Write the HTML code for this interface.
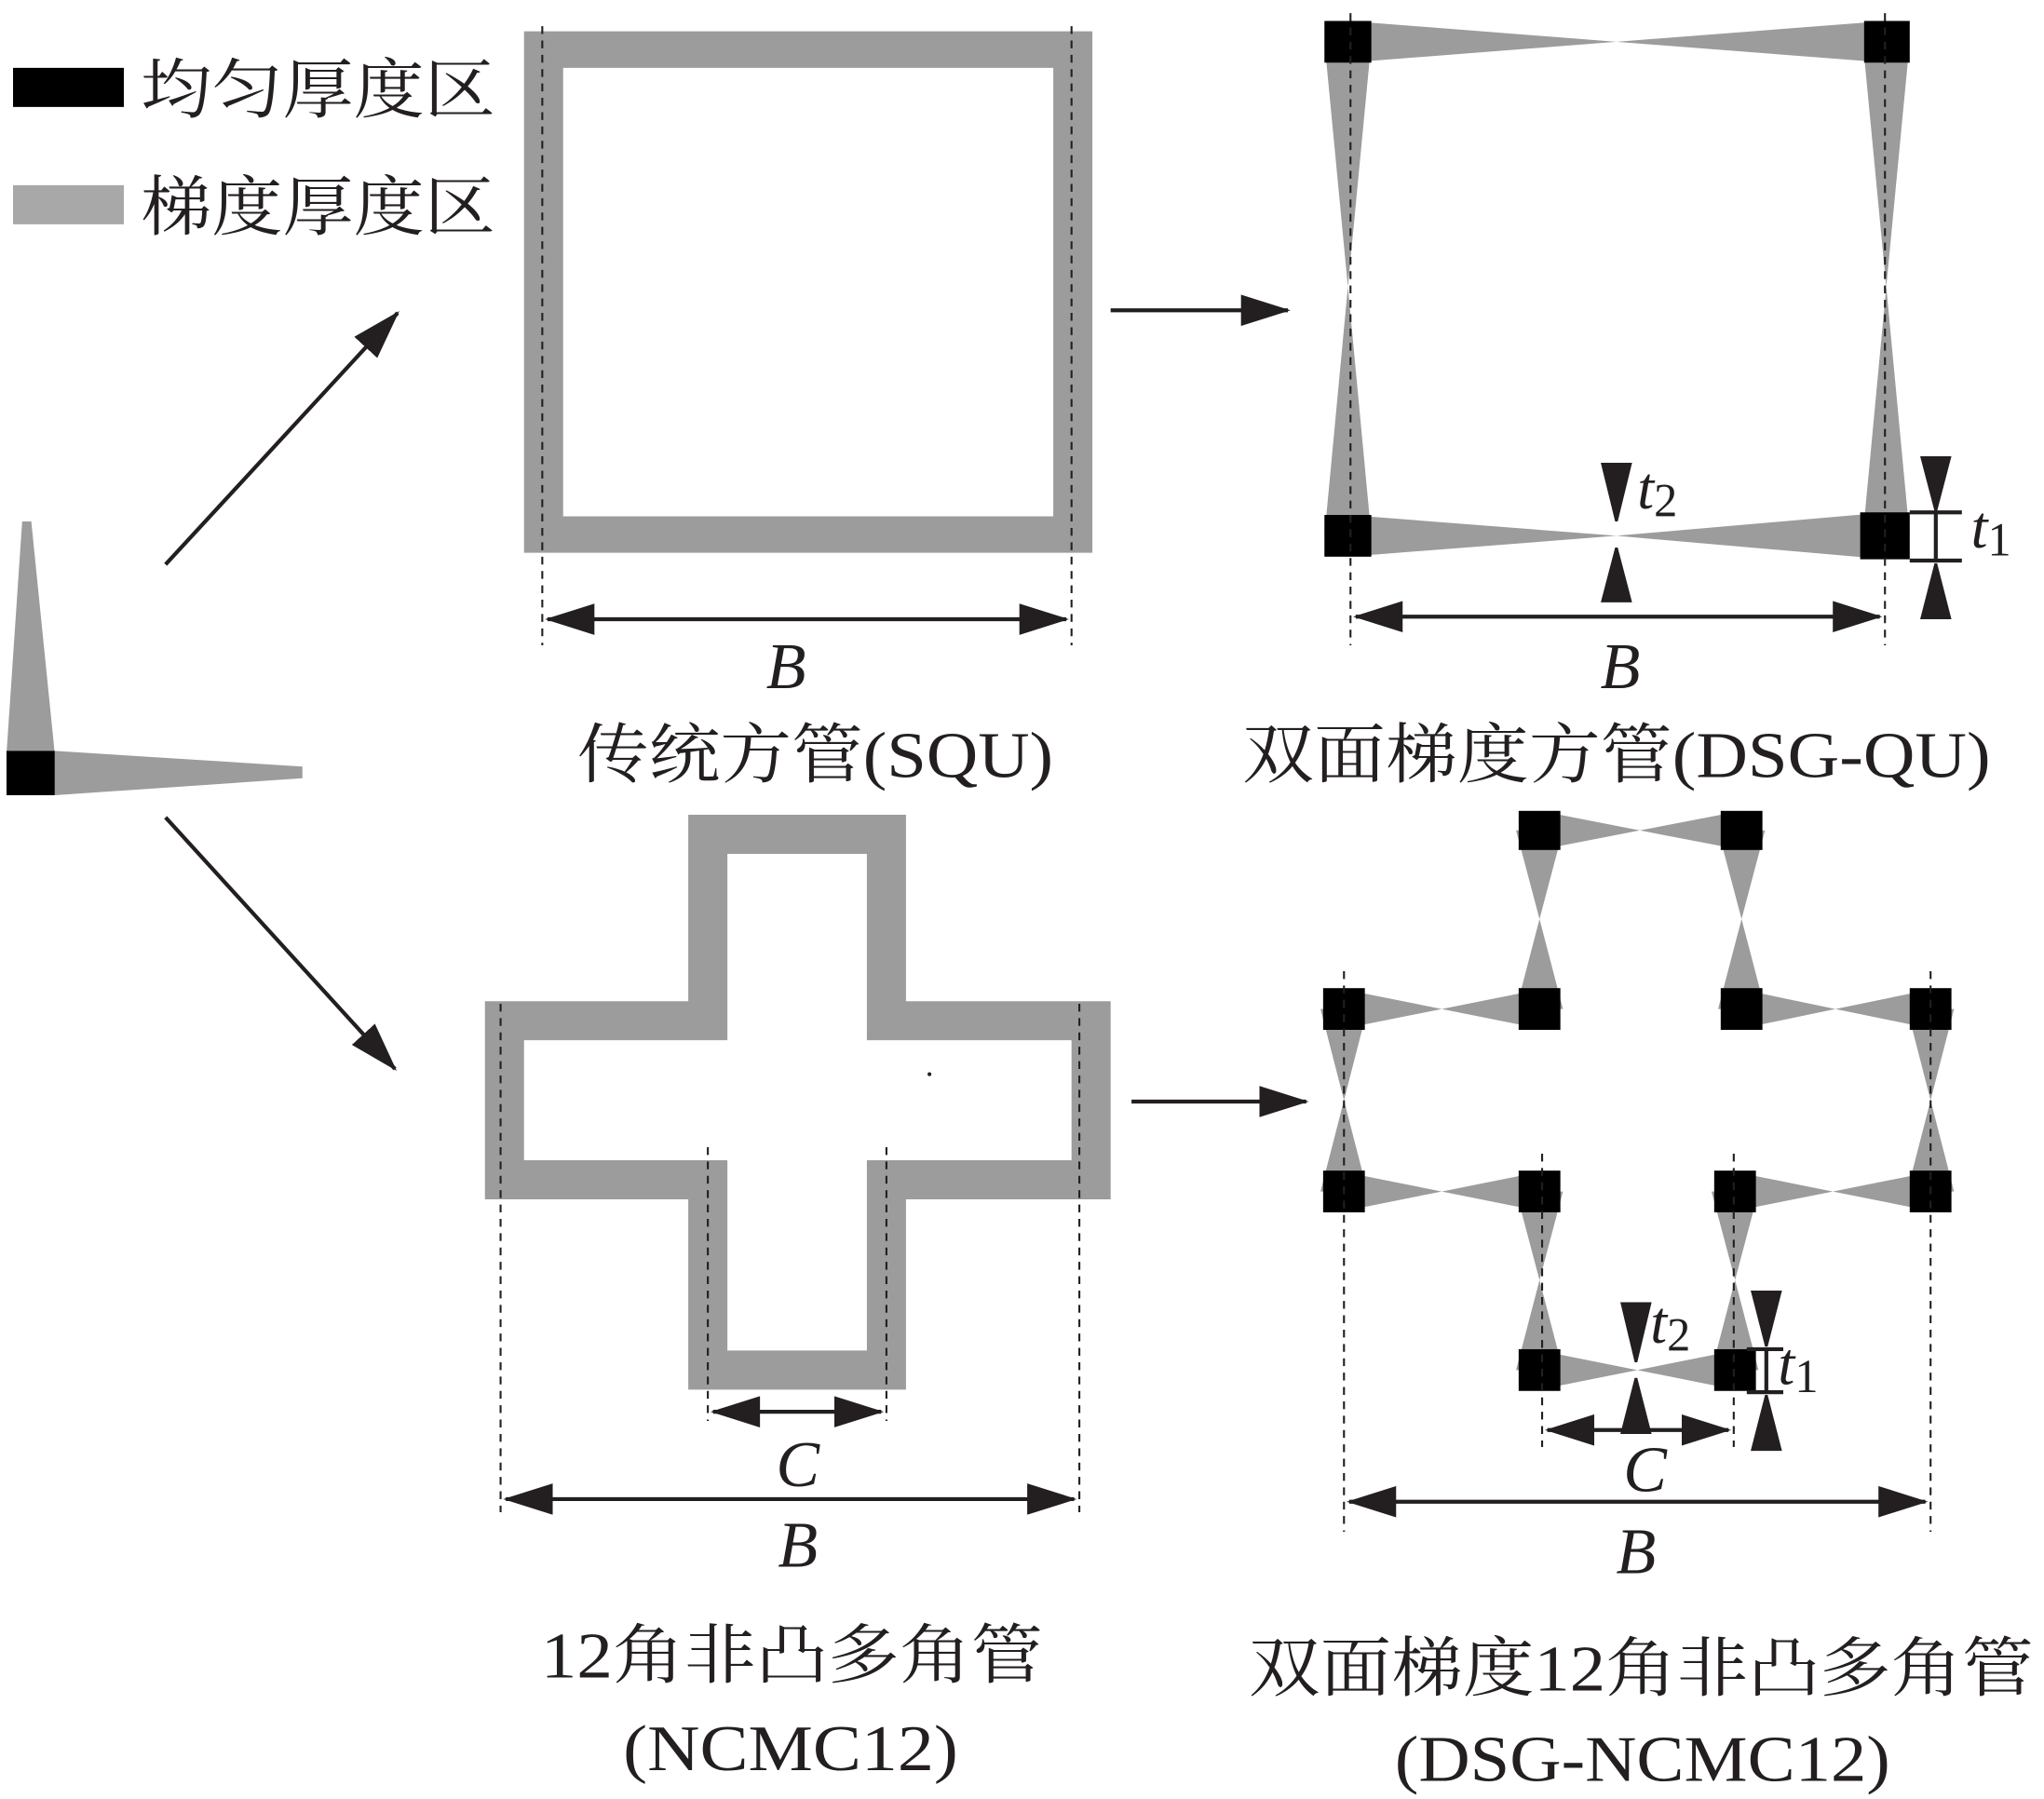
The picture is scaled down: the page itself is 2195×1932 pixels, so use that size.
<!DOCTYPE html>
<html><head><meta charset="utf-8"><style>
html,body{margin:0;padding:0;background:#fff;}
svg{display:block;}
text{font-family:"Liberation Serif","Noto Serif CJK SC",serif;fill:#231f20;}
</style></head><body>
<svg width="2195" height="1932" viewBox="0 0 1568 1380" xmlns="http://www.w3.org/2000/svg">
<defs>
<marker id="ah" markerWidth="40" markerHeight="24" refX="36" refY="12" orient="auto" markerUnits="userSpaceOnUse">
<path d="M0,0 L38,12 L0,24 Z" fill="#231f20"/></marker>
<marker id="as" markerWidth="40" markerHeight="24" refX="2" refY="12" orient="auto" markerUnits="userSpaceOnUse">
<path d="M38,0 L0,12 L38,24 Z" fill="#231f20"/></marker>
</defs>
<g stroke="none">
<rect x="10" y="52" width="85" height="30" fill="#000"/>
<rect x="10" y="142" width="85" height="30" fill="#a8a8a8"/>
<text x="108" y="86" font-size="50" textLength="272" lengthAdjust="spacingAndGlyphs">均匀厚度区</text>
<text x="108" y="176" font-size="50" textLength="272" lengthAdjust="spacingAndGlyphs">梯度厚度区</text>

<polygon points="17,400 24,400 42,578 5,578" fill="#9c9c9c"/>
<polygon points="42,576 232,588 232,597 42,610" fill="#9c9c9c"/>
<rect x="5" y="576" width="37" height="34" fill="#000"/>
</g>
<g stroke="#231f20" stroke-width="3" fill="none">
<line x1="127" y1="433" x2="305" y2="240" marker-end="url(#ah)"/>
<line x1="127" y1="627" x2="303" y2="820" marker-end="url(#ah)"/>
<line x1="852" y1="238" x2="988" y2="238" marker-end="url(#ah)"/>
<line x1="868" y1="845" x2="1002" y2="845" marker-end="url(#ah)"/>
</g>

<!-- SQU -->
<path d="M402,24 H838 V424 H402 Z M432,52 V396 H808 V52 Z" fill="#9c9c9c" fill-rule="evenodd"/>
<g stroke="#231f20" stroke-width="1.5" stroke-dasharray="6,5">
<line x1="416" y1="20" x2="416" y2="495"/><line x1="822" y1="20" x2="822" y2="495"/>
</g>
<line x1="420" y1="475" x2="818" y2="475" stroke="#231f20" stroke-width="3" marker-start="url(#as)" marker-end="url(#ah)"/>
<text x="603" y="528" font-size="50" font-style="italic" text-anchor="middle">B</text>
<text x="443" y="596" font-size="50" textLength="365" lengthAdjust="spacingAndGlyphs">传统方管(SQU)</text>

<!-- DSG-QU -->
<g fill="#9c9c9c">
<polygon points="1034,16 1240,32 1447,16 1447,48 1240,32 1034,48"/>
<polygon points="1034,395 1240,411 1447,393 1447,429 1240,411 1034,427"/>
<polygon points="1016,32 1034,220 1016,411 1052,411 1034,220 1052,32"/>
<polygon points="1429,32 1447,220 1429,411 1465,411 1447,220 1465,32"/>
</g>
<g fill="#000">
<rect x="1016" y="16" width="36" height="32"/><rect x="1430" y="16" width="35" height="32"/>
<rect x="1016" y="395" width="36" height="32"/><rect x="1427" y="393" width="38" height="36"/>
</g>
<g stroke="#231f20" stroke-width="1.5" stroke-dasharray="6,5">
<line x1="1036" y1="10" x2="1036" y2="495"/><line x1="1446" y1="10" x2="1446" y2="495"/>
</g>
<line x1="1040" y1="473" x2="1442" y2="473" stroke="#231f20" stroke-width="3" marker-start="url(#as)" marker-end="url(#ah)"/>
<g fill="#231f20">
<polygon points="1228,355 1252,355 1241,400 1239,400"/>
<polygon points="1228,462 1252,462 1241,420 1239,420"/>
<polygon points="1473,350 1497,350 1486,392 1484,392"/>
<polygon points="1473,475 1497,475 1486,432 1484,432"/>
</g>
<g stroke="#231f20" stroke-width="3">
<line x1="1465" y1="393" x2="1505" y2="393"/><line x1="1465" y1="430" x2="1505" y2="430"/>
<line x1="1485" y1="393" x2="1485" y2="430"/>
</g>
<text x="1256" y="390" font-size="46" font-style="italic">t<tspan font-style="normal" font-size="36" dy="6">2</tspan></text>
<text x="1512" y="420" font-size="46" font-style="italic">t<tspan font-style="normal" font-size="36" dy="6">1</tspan></text>
<text x="1243" y="528" font-size="50" font-style="italic" text-anchor="middle">B</text>
<text x="953" y="596" font-size="50" textLength="574" lengthAdjust="spacingAndGlyphs">双面梯度方管(DSG-QU)</text>

<!-- NCMC12 -->
<path d="M528,625 H695 V768 H852 V920 H695 V1066 H528 V920 H372 V768 H528 Z M558,655 V798 H402 V890 H558 V1036 H665 V890 H822 V798 H665 V655 Z" fill="#9c9c9c" fill-rule="evenodd"/>
<circle cx="713" cy="824" r="1.5" fill="#231f20"/>
<g stroke="#231f20" stroke-width="1.5" stroke-dasharray="6,5">
<line x1="384" y1="770" x2="384" y2="1160"/><line x1="828" y1="770" x2="828" y2="1160"/>
<line x1="543" y1="880" x2="543" y2="1090"/><line x1="680" y1="880" x2="680" y2="1090"/>
</g>
<line x1="547" y1="1083" x2="676" y2="1083" stroke="#231f20" stroke-width="3" marker-start="url(#as)" marker-end="url(#ah)"/>
<line x1="388" y1="1150" x2="824" y2="1150" stroke="#231f20" stroke-width="3" marker-start="url(#as)" marker-end="url(#ah)"/>
<text x="612" y="1140" font-size="50" font-style="italic" text-anchor="middle">C</text>
<text x="612" y="1202" font-size="50" font-style="italic" text-anchor="middle">B</text>
<text x="415" y="1287" font-size="50" textLength="385" lengthAdjust="spacingAndGlyphs">12角非凸多角管</text>
<text x="478" y="1358" font-size="50" textLength="257" lengthAdjust="spacingAndGlyphs">(NCMC12)</text>

<!-- DSG-NCMC12 -->
<g fill="#9c9c9c">
<polygon points="1181,622 1258,637 1336,622 1336,652 1258,637 1181,652"/>
<polygon points="1031,759 1106,774 1181,759 1181,789 1106,774 1031,789"/>
<polygon points="1336,759 1408,774 1481,759 1481,789 1408,774 1336,789"/>
<polygon points="1031,899 1106,914 1181,899 1181,929 1106,914 1031,929"/>
<polygon points="1331,899 1406,914 1481,899 1481,929 1406,914 1331,929"/>
<polygon points="1181,1036 1256,1051 1331,1036 1331,1066 1256,1051 1181,1066"/>
<polygon points="1163,637 1181,705 1163,774 1199,774 1181,705 1199,637"/>
<polygon points="1318,637 1336,705 1318,774 1354,774 1336,705 1354,637"/>
<polygon points="1013,774 1031,844 1013,914 1049,914 1031,844 1049,774"/>
<polygon points="1463,774 1481,844 1463,914 1499,914 1481,844 1499,774"/>
<polygon points="1163,914 1181,982 1163,1051 1199,1051 1181,982 1199,914"/>
<polygon points="1313,914 1331,982 1313,1051 1349,1051 1331,982 1349,914"/>
</g>
<g fill="#000">
<rect x="1165" y="622" width="32" height="30"/><rect x="1320" y="622" width="32" height="30"/>
<rect x="1015" y="758" width="32" height="32"/><rect x="1165" y="758" width="32" height="32"/>
<rect x="1320" y="758" width="32" height="32"/><rect x="1465" y="758" width="32" height="32"/>
<rect x="1015" y="898" width="32" height="32"/><rect x="1165" y="898" width="32" height="32"/>
<rect x="1315" y="898" width="32" height="32"/><rect x="1465" y="898" width="32" height="32"/>
<rect x="1165" y="1035" width="32" height="32"/><rect x="1315" y="1035" width="32" height="32"/>
</g>
<g stroke="#231f20" stroke-width="1.5" stroke-dasharray="6,5">
<line x1="1031" y1="745" x2="1031" y2="1175"/><line x1="1481" y1="745" x2="1481" y2="1175"/>
<line x1="1183" y1="885" x2="1183" y2="1110"/><line x1="1330" y1="885" x2="1330" y2="1110"/>
</g>
<line x1="1187" y1="1097" x2="1326" y2="1097" stroke="#231f20" stroke-width="3" marker-start="url(#as)" marker-end="url(#ah)"/>
<line x1="1035" y1="1152" x2="1477" y2="1152" stroke="#231f20" stroke-width="3" marker-start="url(#as)" marker-end="url(#ah)"/>
<g fill="#231f20">
<polygon points="1243,999 1267,999 1256,1045 1254,1045"/>
<polygon points="1243,1100 1267,1100 1256,1057 1254,1057"/>
<polygon points="1343,990 1367,990 1356,1033 1354,1033"/>
<polygon points="1343,1113 1367,1113 1356,1070 1354,1070"/>
</g>
<g stroke="#231f20" stroke-width="3">
<line x1="1340" y1="1035" x2="1368" y2="1035"/><line x1="1340" y1="1068" x2="1368" y2="1068"/>
<line x1="1355" y1="1035" x2="1355" y2="1068"/>
</g>
<text x="1266" y="1030" font-size="46" font-style="italic">t<tspan font-style="normal" font-size="36" dy="6">2</tspan></text>
<text x="1364" y="1062" font-size="46" font-style="italic">t<tspan font-style="normal" font-size="36" dy="6">1</tspan></text>
<text x="1262" y="1144" font-size="50" font-style="italic" text-anchor="middle">C</text>
<text x="1255" y="1207" font-size="50" font-style="italic" text-anchor="middle">B</text>
<text x="958" y="1297" font-size="50" textLength="602" lengthAdjust="spacingAndGlyphs">双面梯度12角非凸多角管</text>
<text x="1070" y="1366" font-size="50" textLength="380" lengthAdjust="spacingAndGlyphs">(DSG-NCMC12)</text>
</svg>
</body></html>
